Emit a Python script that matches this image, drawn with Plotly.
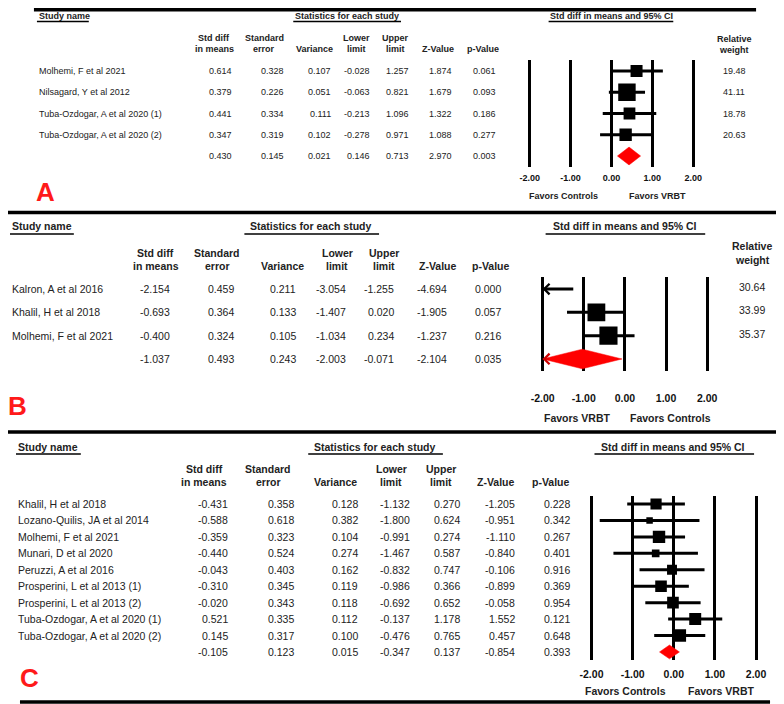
import numpy as np
import plotly.graph_objects as go

# panel A
a_studies = ["Molhemi, F et al 2021", "Nilsagard, Y et al 2012",
             "Tuba-Ozdogar, A et al 2020 (1)", "Tuba-Ozdogar, A et al 2020 (2)"]
a_smd = [0.614, 0.379, 0.441, 0.347]
a_se = [0.328, 0.226, 0.334, 0.319]
a_var = [0.107, 0.051, 0.111, 0.102]
a_lower = [-0.028, -0.063, -0.213, -0.278]
a_upper = [1.257, 0.821, 1.096, 0.971]
a_z = [1.874, 1.679, 1.322, 1.088]
a_p = [0.061, 0.093, 0.186, 0.277]
a_weight = [19.48, 41.11, 18.78, 20.63]
a_pooled = [0.430, 0.145, 0.021, 0.146, 0.713, 2.970, 0.003]
a_favors = ["Favors Controls", "Favors VRBT"]

# panel B
b_studies = ["Kalron, A et al 2016", "Khalil, H et al 2018", "Molhemi, F et al 2021"]
b_smd = [-2.154, -0.693, -0.400]
b_se = [0.459, 0.364, 0.324]
b_var = [0.211, 0.133, 0.105]
b_lower = [-3.054, -1.407, -1.034]
b_upper = [-1.255, 0.020, 0.234]
b_z = [-4.694, -1.905, -1.237]
b_p = [0.000, 0.057, 0.216]
b_weight = [30.64, 33.99, 35.37]
b_pooled = [-1.037, 0.493, 0.243, -2.003, -0.071, -2.104, 0.035]
b_favors = ["Favors VRBT", "Favors Controls"]

# panel C
c_studies = ["Khalil, H et al 2018", "Lozano-Quilis, JA et al 2014", "Molhemi, F et al 2021",
             "Munari, D et al 2020", "Peruzzi, A et al 2016", "Prosperini, L et al 2013 (1)",
             "Prosperini, L et al 2013 (2)", "Tuba-Ozdogar, A et al 2020 (1)",
             "Tuba-Ozdogar, A et al 2020 (2)"]
c_smd = [-0.431, -0.588, -0.359, -0.440, -0.043, -0.310, -0.020, 0.521, 0.145]
c_se = [0.358, 0.618, 0.323, 0.524, 0.403, 0.345, 0.343, 0.335, 0.317]
c_var = [0.128, 0.382, 0.104, 0.274, 0.162, 0.119, 0.118, 0.112, 0.100]
c_lower = [-1.132, -1.800, -0.991, -1.467, -0.832, -0.986, -0.692, -0.137, -0.476]
c_upper = [0.270, 0.624, 0.274, 0.587, 0.747, 0.366, 0.652, 1.178, 0.765]
c_z = [-1.205, -0.951, -1.110, -0.840, -0.106, -0.899, -0.058, 1.552, 0.457]
c_p = [0.228, 0.342, 0.267, 0.401, 0.916, 0.369, 0.954, 0.121, 0.648]
c_pooled = [-0.105, 0.123, 0.015, -0.347, 0.137, -0.854, 0.393]
c_favors = ["Favors Controls", "Favors VRBT"]

ticks = [-2, -1, 0, 1, 2]
col_headers = [["Std diff", "in means"], ["Standard", "error"], ["", "Variance"],
               ["Lower", "limit"], ["Upper", "limit"], ["", "Z-Value"], ["", "p-Value"]]

# the page body has an 8px margin, so the figure is a bit smaller than the window
OFF = 8
W, H = 784 - OFF, 704 - OFF
FONT = "Arial, Liberation Sans, sans-serif"
TXT = "#222222"


def px(x):
    return (x - OFF) / W


def py(y):
    return 1 - (y - OFF) / H


fig = go.Figure()
ann = []
shapes = []


def label(x, y, text, size, anchor="center", bold=False, color=TXT, yref="paper", yshift=0):
    ann.append(dict(x=px(x), y=py(y) if yref == "paper" else y, xref="paper", yref=yref,
                    text=text, showarrow=False, xanchor=anchor, yanchor="middle", yshift=yshift,
                    font=dict(family=FONT, size=size, color=color,
                              weight="bold" if bold else "normal")))


def hline(x0, x1, y, w):
    shapes.append(dict(type="line", xref="paper", yref="paper", x0=px(x0), x1=px(x1),
                       y0=py(y), y1=py(y), line=dict(color="black", width=w)))


def draw_panel(n, studies, cols, weight, pooled, favors, letter, cfg, show_weight=True):
    sfx = "" if n == 1 else str(n)
    xr, yr = "x" + sfx, "y" + sfx
    k = len(studies)
    fs = cfg["font"]
    top = cfg["row0"] - cfg["step"] / 2
    bot = cfg["row0"] + k * cfg["step"] + cfg["step"] / 2
    c, s = cfg["center"], cfg["scale"]

    fig.update_layout(**{
        "xaxis" + sfx: dict(domain=[px(c - 2.25 * s), px(c + 2.25 * s)], range=[-2.25, 2.25],
                            anchor=yr, tickvals=ticks, ticktext=["%.2f" % t for t in ticks],
                            showgrid=True, gridcolor="black", gridwidth=2.5, zeroline=False,
                            showline=False, ticks="", fixedrange=True,
                            ticklabelstandoff=int(round(cfg["tick_y"] - bot - fs * 0.6)),
                            tickfont=dict(family=FONT, size=fs, color="#111111", weight="bold")),
        "yaxis" + sfx: dict(domain=[py(bot), py(top)], range=[k + 0.5, -0.5], anchor=xr,
                            visible=False, fixedrange=True),
    })

    est, lower, upper = np.array(cols[0]), np.array(cols[3]), np.array(cols[4])
    lo, hi = np.clip(lower, -2, 2), np.clip(upper, -2, 2)
    xs, ys = [], []
    for i in range(k):
        xs += [lo[i], hi[i], None]
        ys += [i, i, None]
    fig.add_trace(go.Scatter(x=xs, y=ys, xaxis=xr, yaxis=yr, mode="lines",
                             line=dict(color="black", width=3), hoverinfo="skip", showlegend=False))

    shown = np.where(np.abs(est) <= 2, est, np.nan)
    fig.add_trace(go.Scatter(x=shown, y=list(range(k)), xaxis=xr, yaxis=yr, mode="markers",
                             marker=dict(symbol="square", color="black", opacity=1,
                                         line=dict(width=0),
                                         size=cfg["box"] * np.sqrt(np.array(weight))),
                             hoverinfo="skip", showlegend=False))

    h = 0.42
    plo, phi = max(pooled[3], -2), min(pooled[4], 2)
    fig.add_trace(go.Scatter(x=[plo, pooled[0], phi, pooled[0], plo], y=[k, k - h, k, k + h, k],
                             xaxis=xr, yaxis=yr, mode="lines", fill="toself", fillcolor="#ff0000",
                             line=dict(color="#ff0000", width=0.5), hoverinfo="skip", showlegend=False))

    # arrows where the interval runs off the scale
    for i in range(k):
        if lower[i] < -2:
            ann.append(dict(x=-2, y=i, xref=xr, yref=yr, ax=8, ay=0, text="", showarrow=True,
                            arrowhead=4, arrowwidth=1.2, arrowsize=1.7, arrowcolor="black"))
    if pooled[3] < -2:
        ann.append(dict(x=-2, y=k, xref=xr, yref=yr, ax=8, ay=0, text="", showarrow=True,
                        arrowhead=4, arrowwidth=1.2, arrowsize=1.7, arrowcolor="#cc0000"))

    # table
    for i in range(k + 1):
        vals = [col[i] for col in cols] if i < k else pooled
        if i < k:
            label(cfg["name_x"], i, studies[i], fs, "left", yref=yr)
        for v, x in zip(vals, cfg["val_x"]):
            label(x, i, "%.3f" % v, fs, "right", yref=yr)
        if show_weight and i < k:
            label(cfg["w_x"], i, "%.2f" % weight[i], fs, yref=yr, yshift=cfg.get("w_shift", 0))

    for (l1, l2), x in zip(col_headers, cfg["hdr_x"]):
        if l1:
            label(x, cfg["hdr_y"][0], l1, fs, bold=True)
        label(x, cfg["hdr_y"][1], l2, fs, bold=True)
    if show_weight:
        label(cfg["w_x"], cfg["w_hdr_y"][0], "Relative", fs, bold=True)
        label(cfg["w_x"], cfg["w_hdr_y"][1], "weight", fs, bold=True)

    label(cfg["name_x"], cfg["title_y"], "Study name", fs, "left", bold=True)
    label(cfg["stats_x"], cfg["title_y"], "Statistics for each study", fs, bold=True)
    label(cfg["ci_x"], cfg["title_y"], "Std diff in means and 95% CI", fs, bold=True)
    for x0, x1 in cfg["underlines"]:
        hline(x0, x1, cfg["ul_y"], 1.3)

    for t, x in zip(favors, cfg["fav_x"]):
        label(x, cfg["fav_y"], t, fs, bold=True)

    label(cfg["letter"][0], cfg["letter"][1], letter, 26, bold=True, color="#ff1a1a")


cfg_a = dict(font=9, row0=71, step=21.25, center=611, scale=41, box=2.72, name_x=35,
             val_x=[233, 285, 332, 371, 410, 453, 497], hdr_x=[213, 263, 313, 355, 394, 437, 482],
             hdr_y=[38, 49], w_x=734, w_hdr_y=[39, 50], title_y=16, stats_x=346, ci_x=611,
             ul_y=21.5, underlines=[(35, 87), (292, 400), (548, 673)], tick_y=176,
             fav_y=196, fav_x=[563, 657], letter=(44, 192))
cfg_b = dict(font=10.5, row0=289, step=23.33, center=624.5, scale=41.25, box=3.05, name_x=8,
             val_x=[170, 235, 297, 347, 395, 448, 502], hdr_x=[154, 216, 281, 336, 383, 437, 490],
             hdr_y=[253, 266], w_x=752, w_shift=2, w_hdr_y=[246, 260], title_y=226, stats_x=310,
             ci_x=625, ul_y=234, underlines=[(8, 72), (243, 378), (545, 705)], tick_y=397,
             fav_y=418, fav_x=[577, 670], letter=(16, 406))
cfg_c = dict(font=10.5, row0=504, step=16.44, center=673.5, scale=41.25, box=4.0, name_x=14,
             val_x=[229, 295, 359, 411, 461, 516, 571], hdr_x=[203, 267, 334, 390, 440, 495, 550],
             hdr_y=[469, 482], title_y=447, stats_x=374, ci_x=673, ul_y=454,
             underlines=[(14, 79), (307, 442), (594, 754)], tick_y=672,
             fav_y=691, fav_x=[625, 721], letter=(28, 678))

draw_panel(1, a_studies, [a_smd, a_se, a_var, a_lower, a_upper, a_z, a_p], a_weight,
           a_pooled, a_favors, "A", cfg_a)
draw_panel(2, b_studies, [b_smd, b_se, b_var, b_lower, b_upper, b_z, b_p], b_weight,
           b_pooled, b_favors, "B", cfg_b)
# box size in panel C follows inverse variance
draw_panel(3, c_studies, [c_smd, c_se, c_var, c_lower, c_upper, c_z, c_p], 1 / np.array(c_var),
           c_pooled, c_favors, "C", cfg_c, show_weight=False)

hline(32, 756, 9.75, 3.5)
hline(0, 784, 212.5, 3.5)
hline(0, 782, 432, 3.5)
hline(18, 770, 702, 3.5)

fig.update_layout(width=W, height=H, margin=dict(l=0, r=0, t=0, b=0), autosize=False,
                  paper_bgcolor="white", plot_bgcolor="white", showlegend=False,
                  annotations=ann, shapes=shapes)
fig.write_html("out.html")
